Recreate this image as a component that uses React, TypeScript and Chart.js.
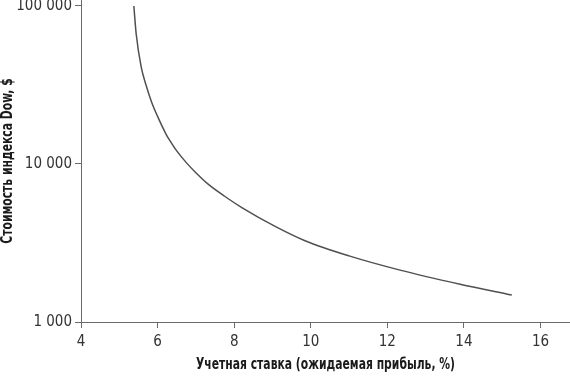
import React, { useEffect, useRef } from "react";
import { Chart, registerables } from "chart.js";

Chart.register(...registerables);

const rates = [5.38, 5.44, 5.57, 5.7, 5.84, 6.0, 6.23, 6.35, 6.5, 6.75, 7.0, 7.32, 7.75, 8.2, 9.07, 9.85, 11.0, 12.33, 13.9, 15.25];
const dowValues = [100000, 67000, 41300, 31500, 24800, 20000, 15300, 13700, 12100, 10200, 8800, 7450, 6250, 5300, 4030, 3270, 2620, 2130, 1735, 1480];
const xTicks = [4, 6, 8, 10, 12, 14, 16];
const yTicks = [1000, 10000, 100000];
const xTitle = "Учетная ставка (ожидаемая прибыль, %)";
const yTitle = "Стоимость индекса Dow, $";

const FONT = "'DejaVu Sans Condensed', 'Liberation Sans Narrow', 'Roboto', sans-serif";
const TITLE_FONT = "bold 15px 'DejaVu Sans Condensed', 'Roboto', sans-serif";

function fmt(v: number): string {
  return String(Math.round(v)).replace(/\B(?=(\d{3})+(?!\d))/g, " ");
}

const titlesPlugin = {
  id: "axisTitles",
  afterDraw(chart: any) {
    const ctx = chart.ctx as CanvasRenderingContext2D;
    const area = chart.chartArea;
    const sx = 0.8;
    ctx.save();
    ctx.fillStyle = "#1a1a1a";
    ctx.font = TITLE_FONT;
    ctx.textAlign = "center";
    ctx.textBaseline = "middle";
    ctx.save();
    ctx.translate((area.left + area.right) / 2, 365);
    ctx.scale(sx, 1);
    ctx.fillText(xTitle, 0, 0);
    ctx.restore();
    ctx.save();
    ctx.translate(8, (area.top + area.bottom) / 2);
    ctx.rotate(-Math.PI / 2);
    ctx.scale(sx, 1);
    ctx.fillText(yTitle, 0, 0);
    ctx.restore();
    ctx.restore();
  },
};

export default function App() {
  const ref = useRef<HTMLCanvasElement | null>(null);
  useEffect(() => {
    document.body.style.margin = "0";
    const ctx = ref.current!;
    const chart = new Chart(ctx, {
      type: "line",
      data: {
        datasets: [
          {
            data: rates.map((r, i) => ({ x: r, y: dowValues[i] })),
            borderColor: "#505050",
            borderWidth: 1.5,
            pointRadius: 0,
            cubicInterpolationMode: "monotone",
            fill: false,
          },
        ],
      },
      options: {
        animation: false,
        responsive: false,
        maintainAspectRatio: false,
        layout: { padding: 0 },
        plugins: { legend: { display: false }, tooltip: { enabled: false } },
        scales: {
          x: {
            type: "linear",
            min: 4,
            max: 16.77,
            afterBuildTicks: (axis: any) => {
              axis.ticks = xTicks.map((v) => ({ value: v }));
            },
            afterFit: (axis: any) => {
              axis.height = 57;
              axis.paddingLeft = 0;
              axis.paddingRight = 0;
            },
            grid: { drawOnChartArea: false, drawTicks: true, tickLength: 6, color: "#6a6a6a" },
            border: { color: "#6a6a6a", width: 1 },
            ticks: { color: "#333", font: { family: FONT, size: 15 }, padding: 5, maxRotation: 0 },
          },
          y: {
            type: "logarithmic",
            min: 1000,
            max: 109100,
            afterBuildTicks: (axis: any) => {
              axis.ticks = yTicks.map((v) => ({ value: v }));
            },
            afterFit: (axis: any) => {
              axis.width = 81;
              axis.paddingTop = 0;
              axis.paddingBottom = 0;
            },
            grid: { drawOnChartArea: false, drawTicks: true, tickLength: 6, color: "#6a6a6a" },
            border: { color: "#6a6a6a", width: 1 },
            ticks: {
              color: "#333",
              font: { family: FONT, size: 15 },
              padding: 3,
              callback: (v: any) => fmt(Number(v)),
            },
          },
        },
      },
      plugins: [titlesPlugin],
    });
    return () => chart.destroy();
  }, []);
  return (
    <div style={{ width: 570, height: 379, background: "#fff" }}>
      <canvas ref={ref} width={570} height={379} style={{ width: 570, height: 379, display: "block" }} />
    </div>
  );
}
